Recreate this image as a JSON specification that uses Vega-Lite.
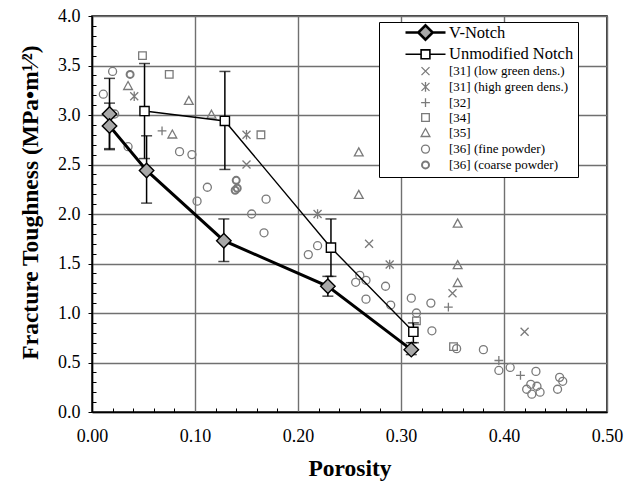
{
  "$schema": "https://vega.github.io/schema/vega-lite/v6.json",
  "width": 515,
  "height": 396,
  "autosize": {"type": "none"},
  "padding": {"left": 92, "top": 16, "right": 27, "bottom": 73},
  "background": "white",
  "config": {
    "view": {"stroke": "black", "strokeWidth": 1.5},
    "font": "Liberation Serif",
    "legend": {
      "title": null,
      "orient": "none", "legendX": 287, "legendY": 6,
      "fillColor": "white", "strokeColor": "black", "padding": 4,
      "symbolSize": 100, "symbolOffset": 36, "labelOffset": 17, "rowPadding": 0.8,
      "labelFont": "Liberation Serif", "labelColor": "black", "labelLimit": 300
    }
  },
  "datasets": {
    "scatter": [
      {"series": "[31] (high green dens.)", "x": 0.041, "y": 3.19},
      {"series": "[31] (high green dens.)", "x": 0.150, "y": 2.80},
      {"series": "[31] (high green dens.)", "x": 0.219, "y": 2.00},
      {"series": "[31] (high green dens.)", "x": 0.289, "y": 1.49},
      {"series": "[31] (low green dens.)", "x": 0.150, "y": 2.50},
      {"series": "[31] (low green dens.)", "x": 0.269, "y": 1.70},
      {"series": "[31] (low green dens.)", "x": 0.350, "y": 1.20},
      {"series": "[31] (low green dens.)", "x": 0.420, "y": 0.81},
      {"series": "[32]", "x": 0.068, "y": 2.84},
      {"series": "[32]", "x": 0.346, "y": 1.06},
      {"series": "[32]", "x": 0.395, "y": 0.52},
      {"series": "[32]", "x": 0.416, "y": 0.37},
      {"series": "[34]", "x": 0.049, "y": 3.60},
      {"series": "[34]", "x": 0.075, "y": 3.41},
      {"series": "[34]", "x": 0.164, "y": 2.80},
      {"series": "[34]", "x": 0.315, "y": 0.92},
      {"series": "[34]", "x": 0.351, "y": 0.66},
      {"series": "[35]", "x": 0.035, "y": 3.29},
      {"series": "[35]", "x": 0.094, "y": 3.14},
      {"series": "[35]", "x": 0.116, "y": 3.00},
      {"series": "[35]", "x": 0.078, "y": 2.80},
      {"series": "[35]", "x": 0.259, "y": 2.62},
      {"series": "[35]", "x": 0.259, "y": 2.19},
      {"series": "[35]", "x": 0.355, "y": 1.90},
      {"series": "[35]", "x": 0.355, "y": 1.48},
      {"series": "[35]", "x": 0.355, "y": 1.30},
      {"series": "[36] (fine powder)", "x": 0.011, "y": 3.21},
      {"series": "[36] (fine powder)", "x": 0.020, "y": 3.44},
      {"series": "[36] (fine powder)", "x": 0.022, "y": 3.01},
      {"series": "[36] (fine powder)", "x": 0.035, "y": 2.68},
      {"series": "[36] (fine powder)", "x": 0.085, "y": 2.63},
      {"series": "[36] (fine powder)", "x": 0.097, "y": 2.60},
      {"series": "[36] (fine powder)", "x": 0.102, "y": 2.13},
      {"series": "[36] (fine powder)", "x": 0.112, "y": 2.27},
      {"series": "[36] (fine powder)", "x": 0.155, "y": 2.00},
      {"series": "[36] (fine powder)", "x": 0.167, "y": 1.81},
      {"series": "[36] (fine powder)", "x": 0.169, "y": 2.15},
      {"series": "[36] (fine powder)", "x": 0.210, "y": 1.59},
      {"series": "[36] (fine powder)", "x": 0.219, "y": 1.68},
      {"series": "[36] (fine powder)", "x": 0.256, "y": 1.31},
      {"series": "[36] (fine powder)", "x": 0.260, "y": 1.38},
      {"series": "[36] (fine powder)", "x": 0.266, "y": 1.33},
      {"series": "[36] (fine powder)", "x": 0.266, "y": 1.14},
      {"series": "[36] (fine powder)", "x": 0.285, "y": 1.27},
      {"series": "[36] (fine powder)", "x": 0.290, "y": 1.08},
      {"series": "[36] (fine powder)", "x": 0.310, "y": 1.15},
      {"series": "[36] (fine powder)", "x": 0.315, "y": 1.00},
      {"series": "[36] (fine powder)", "x": 0.329, "y": 1.10},
      {"series": "[36] (fine powder)", "x": 0.330, "y": 0.82},
      {"series": "[36] (fine powder)", "x": 0.354, "y": 0.64},
      {"series": "[36] (fine powder)", "x": 0.380, "y": 0.63},
      {"series": "[36] (fine powder)", "x": 0.395, "y": 0.42},
      {"series": "[36] (fine powder)", "x": 0.406, "y": 0.45},
      {"series": "[36] (fine powder)", "x": 0.431, "y": 0.41},
      {"series": "[36] (fine powder)", "x": 0.422, "y": 0.23},
      {"series": "[36] (fine powder)", "x": 0.426, "y": 0.28},
      {"series": "[36] (fine powder)", "x": 0.432, "y": 0.26},
      {"series": "[36] (fine powder)", "x": 0.427, "y": 0.18},
      {"series": "[36] (fine powder)", "x": 0.435, "y": 0.20},
      {"series": "[36] (fine powder)", "x": 0.454, "y": 0.35},
      {"series": "[36] (fine powder)", "x": 0.457, "y": 0.31},
      {"series": "[36] (fine powder)", "x": 0.452, "y": 0.23},
      {"series": "[36] (coarse powder)", "x": 0.037, "y": 3.41},
      {"series": "[36] (coarse powder)", "x": 0.140, "y": 2.34},
      {"series": "[36] (coarse powder)", "x": 0.141, "y": 2.26},
      {"series": "[36] (coarse powder)", "x": 0.139, "y": 2.24}
    ],
    "vnotch": [
      {"i": 1, "x": 0.017, "y": 3.01, "lo": 2.65, "hi": 3.37},
      {"i": 2, "x": 0.017, "y": 2.89, "lo": 2.66, "hi": 3.12},
      {"i": 3, "x": 0.053, "y": 2.44, "lo": 2.11, "hi": 2.79},
      {"i": 4, "x": 0.128, "y": 1.73, "lo": 1.52, "hi": 1.95},
      {"i": 5, "x": 0.229, "y": 1.27, "lo": 1.17, "hi": 1.37},
      {"i": 6, "x": 0.310, "y": 0.63, "lo": 0.58, "hi": 0.70}
    ],
    "unmod": [
      {"i": 1, "x": 0.051, "y": 3.04, "lo": 2.56, "hi": 3.52},
      {"i": 2, "x": 0.129, "y": 2.94, "lo": 2.45, "hi": 3.44},
      {"i": 3, "x": 0.232, "y": 1.66, "lo": 1.37, "hi": 1.95},
      {"i": 4, "x": 0.312, "y": 0.81, "lo": 0.70, "hi": 0.90}
    ]
  },
  "encoding": {
    "x": {
      "field": "x", "type": "quantitative",
      "scale": {"domain": [0, 0.5], "nice": false, "zero": false},
      "axis": {
        "title": "Porosity",
        "titleFont": "Liberation Serif", "titleFontSize": 23.5, "titleFontWeight": "bold", "titleColor": "black",
        "titleY": 56, "titleBaseline": "middle",
        "values": [0,0.02,0.04,0.06,0.08,0.1,0.12,0.14,0.16,0.18,0.2,0.22,0.24,0.26,0.28,0.3,0.32,0.34,0.36,0.38,0.4,0.42,0.44,0.46,0.48,0.5],
        "labelExpr": "abs(datum.value*10 - round(datum.value*10)) < 0.001 ? format(datum.value, '.2f') : ''",
        "labelFont": "Liberation Serif", "labelFontSize": 18, "labelColor": "black",
        "labelOverlap": false, "labelPadding": 15, "labelFlush": false,
        "domainColor": "black", "domainWidth": 1.5,
        "tickColor": "black", "tickWidth": 1,
        "tickSize": {"condition": {"test": "abs(datum.value*10 - round(datum.value*10)) < 0.001", "value": 0}, "value": -4},
        "grid": true, "gridColor": "#707070", "gridWidth": 1.4,
        "gridOpacity": {"condition": {"test": "abs(datum.value*10 - round(datum.value*10)) < 0.001", "value": 1}, "value": 0}
      }
    },
    "y": {
      "field": "y", "type": "quantitative",
      "scale": {"domain": [0, 4], "nice": false, "zero": false},
      "axis": {
        "title": "Fracture Toughness (MPa•m¹⁄²)",
        "titleFont": "Liberation Serif", "titleFontSize": 23.5, "titleFontWeight": "bold", "titleColor": "black",
        "titleX": -50, "titleY": 186, "titleAlign": "center", "titleBaseline": "bottom", "titleAngle": -90,
        "values": [0,0.1,0.2,0.3,0.4,0.5,0.6,0.7,0.8,0.9,1,1.1,1.2,1.3,1.4,1.5,1.6,1.7,1.8,1.9,2,2.1,2.2,2.3,2.4,2.5,2.6,2.7,2.8,2.9,3,3.1,3.2,3.3,3.4,3.5,3.6,3.7,3.8,3.9,4],
        "labelExpr": "abs(datum.value*2 - round(datum.value*2)) < 0.001 ? format(datum.value, '.1f') : ''",
        "labelFont": "Liberation Serif", "labelFontSize": 18, "labelColor": "black",
        "labelOverlap": false, "labelPadding": 8, "labelFlush": false,
        "domainColor": "black", "domainWidth": 1.5,
        "tickColor": "black", "tickWidth": 1,
        "tickSize": {"condition": {"test": "abs(datum.value*2 - round(datum.value*2)) < 0.001", "value": 4}, "value": -4},
        "grid": true, "gridColor": "#707070", "gridWidth": 1.4,
        "gridOpacity": {"condition": {"test": "abs(datum.value*2 - round(datum.value*2)) < 0.001", "value": 1}, "value": 0}
      }
    }
  },
  "layer": [
    {
      "data": {"name": "scatter"},
      "mark": {"type": "point", "filled": false, "size": 100, "opacity": 1},
      "encoding": {
        "shape": {
          "field": "series", "type": "nominal",
          "scale": {
            "domain": ["V-Notch", "Unmodified Notch", "[31] (low green dens.)", "[31] (high green dens.)", "[32]", "[34]", "[35]", "[36] (fine powder)", "[36] (coarse powder)"],
            "range": [
              "M-4,0H-1.44M1.44,0H4M0,-1.44L1.44,0L0,1.44L-1.44,0Z",
              "M-4,0H-0.88M0.88,0H4M-0.88,-0.88H0.88V0.88H-0.88Z",
              "M-0.8,-0.8L0.8,0.8M-0.8,0.8L0.8,-0.8",
              "M-0.8,-0.8L0.8,0.8M-0.8,0.8L0.8,-0.8M0,-0.96V0.96",
              "M-0.88,0H0.88M0,-0.88V0.88",
              "M-0.76,-0.76H0.76V0.76H-0.76Z",
              "M0,-0.96L0.88,0.64H-0.88Z",
              "M0.8,0A0.8,0.8 0 1 1 -0.8,0A0.8,0.8 0 1 1 0.8,0Z",
              "M0.7,0A0.7,0.7 0 1 1 -0.7,0A0.7,0.7 0 1 1 0.7,0Z"
            ]
          },
          "legend": {
            "labelFontSize": {"expr": "(datum.value === 'V-Notch' || datum.value === 'Unmodified Notch') ? 16.5 : 13"},
            "labelExpr": "datum.label === 'Unmodified Notch' ? datum.label + '\u00a0\u00a0\u00a0\u00a0\u00a0\u00a0' : datum.label"
          }
        },
        "fill": {
          "field": "series", "type": "nominal",
          "scale": {
            "domain": ["V-Notch", "Unmodified Notch", "[31] (low green dens.)", "[31] (high green dens.)", "[32]", "[34]", "[35]", "[36] (fine powder)", "[36] (coarse powder)"],
            "range": ["#a8a8a8", "white", "transparent", "transparent", "transparent", "transparent", "transparent", "transparent", "transparent"]
          },
          "legend": {
            "labelFontSize": {"expr": "(datum.value === 'V-Notch' || datum.value === 'Unmodified Notch') ? 16.5 : 13"},
            "labelExpr": "datum.label === 'Unmodified Notch' ? datum.label + '\u00a0\u00a0\u00a0\u00a0\u00a0\u00a0' : datum.label"
          }
        },
        "stroke": {
          "field": "series", "type": "nominal",
          "scale": {
            "domain": ["V-Notch", "Unmodified Notch", "[31] (low green dens.)", "[31] (high green dens.)", "[32]", "[34]", "[35]", "[36] (fine powder)", "[36] (coarse powder)"],
            "range": ["black", "black", "#7a7a7a", "#7a7a7a", "#7a7a7a", "#7a7a7a", "#7a7a7a", "#7a7a7a", "#7a7a7a"]
          },
          "legend": {
            "labelFontSize": {"expr": "(datum.value === 'V-Notch' || datum.value === 'Unmodified Notch') ? 16.5 : 13"},
            "labelExpr": "datum.label === 'Unmodified Notch' ? datum.label + '\u00a0\u00a0\u00a0\u00a0\u00a0\u00a0' : datum.label"
          }
        },
        "strokeWidth": {
          "field": "series", "type": "nominal",
          "scale": {
            "type": "ordinal",
            "domain": ["V-Notch", "Unmodified Notch", "[31] (low green dens.)", "[31] (high green dens.)", "[32]", "[34]", "[35]", "[36] (fine powder)", "[36] (coarse powder)"],
            "range": [2.6, 1.6, 1.3, 1.3, 1.3, 1.3, 1.3, 1.3, 2]
          },
          "legend": {
            "labelFontSize": {"expr": "(datum.value === 'V-Notch' || datum.value === 'Unmodified Notch') ? 16.5 : 13"},
            "labelExpr": "datum.label === 'Unmodified Notch' ? datum.label + '\u00a0\u00a0\u00a0\u00a0\u00a0\u00a0' : datum.label"
          }
        }
      }
    },
    {
      "data": {"name": "unmod"},
      "mark": {"type": "rule", "color": "black", "strokeWidth": 1.5},
      "encoding": {"y": {"field": "lo", "type": "quantitative"}, "y2": {"field": "hi"}}
    },
    {
      "data": {"name": "unmod"},
      "mark": {"type": "tick", "orient": "horizontal", "color": "black", "size": 11, "thickness": 1.5},
      "encoding": {"y": {"field": "lo", "type": "quantitative"}}
    },
    {
      "data": {"name": "unmod"},
      "mark": {"type": "tick", "orient": "horizontal", "color": "black", "size": 11, "thickness": 1.5},
      "encoding": {"y": {"field": "hi", "type": "quantitative"}}
    },
    {
      "data": {"name": "vnotch"},
      "mark": {"type": "rule", "color": "black", "strokeWidth": 1.5},
      "encoding": {"y": {"field": "lo", "type": "quantitative"}, "y2": {"field": "hi"}}
    },
    {
      "data": {"name": "vnotch"},
      "mark": {"type": "tick", "orient": "horizontal", "color": "black", "size": 11, "thickness": 1.5},
      "encoding": {"y": {"field": "lo", "type": "quantitative"}}
    },
    {
      "data": {"name": "vnotch"},
      "mark": {"type": "tick", "orient": "horizontal", "color": "black", "size": 11, "thickness": 1.5},
      "encoding": {"y": {"field": "hi", "type": "quantitative"}}
    },
    {
      "data": {"name": "unmod"},
      "mark": {"type": "line", "color": "black", "strokeWidth": 1.4},
      "encoding": {"order": {"field": "i", "type": "quantitative"}}
    },
    {
      "data": {"name": "vnotch"},
      "mark": {"type": "line", "color": "black", "strokeWidth": 3},
      "encoding": {"order": {"field": "i", "type": "quantitative"}}
    },
    {
      "data": {"name": "unmod"},
      "mark": {"type": "point", "shape": "square", "size": 85, "filled": true, "fill": "white", "stroke": "black", "strokeWidth": 1.4, "opacity": 1}
    },
    {
      "data": {"name": "vnotch"},
      "mark": {"type": "point", "shape": "diamond", "size": 210, "filled": true, "fill": "#a8a8a8", "stroke": "black", "strokeWidth": 1.4, "opacity": 1}
    }
  ]
}
